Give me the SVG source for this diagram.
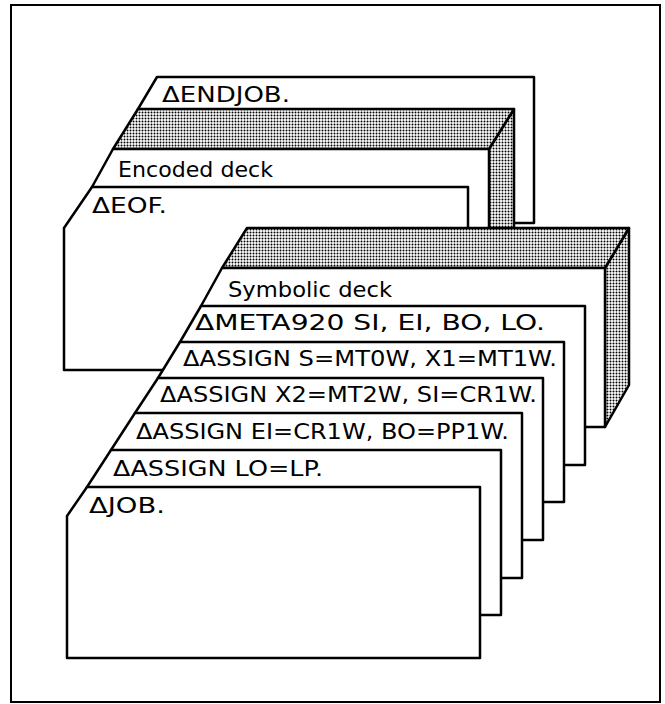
<svg xmlns="http://www.w3.org/2000/svg" width="665" height="704" viewBox="0 0 665 704">
<defs>
<pattern id="dots" patternUnits="userSpaceOnUse" width="3" height="3">
<rect width="3" height="3" fill="#fff"/>
<circle cx="1.5" cy="1.5" r="1.0" fill="#000"/>
</pattern>
<style>
.card{fill:#fff;stroke:#000;stroke-width:2.5;stroke-linejoin:round}
.shade{fill:url(#dots);stroke:#000;stroke-width:2.5;stroke-linejoin:round}
.frame{fill:#fff;stroke:#000;stroke-width:2}
.t{font-family:"DejaVu Sans","Liberation Sans",sans-serif;font-size:21px;fill:#000}
</style>
</defs>
<rect class="frame" x="11" y="5" width="649" height="697"/>
<g id="endjob">
<polygon class="card" points="157,77 534,77 534,223 138,223 138,109"/>
<text class="t" x="162" y="102" textLength="128" lengthAdjust="spacingAndGlyphs">ΔENDJOB.</text>
</g>
<g id="encoded-deck">
<polygon class="shade" points="514,109 514,300 489,300 489,149"/>
<polygon class="shade" points="138,109 514,109 489,149 113,149"/>
<polygon class="card" points="113,149 489,149 489,300 92,300 92,187"/>
<text class="t" x="118" y="177" textLength="155" lengthAdjust="spacingAndGlyphs">Encoded deck</text>
</g>
<g id="eof">
<polygon class="card" points="92,187 468,187 468,370 64,370 64,228"/>
<text class="t" x="92" y="213" textLength="75" lengthAdjust="spacingAndGlyphs">ΔEOF.</text>
</g>
<g id="symbolic-deck">
<polygon class="shade" points="629,228 629,385 605,427 605,268"/>
<polygon class="shade" points="247,228 629,228 605,268 222,268"/>
<polygon class="card" points="222,268 605,268 605,427 201,427 201,306"/>
<text class="t" x="228" y="297" textLength="164" lengthAdjust="spacingAndGlyphs">Symbolic deck</text>
</g>
<g id="meta">
<polygon class="card" points="201,306 585,306 585,465 180,465 180,342"/>
<text class="t" x="195" y="330" textLength="350" lengthAdjust="spacingAndGlyphs">ΔMETA920 SI, EI, BO, LO.</text>
</g>
<g id="assign-s">
<polygon class="card" points="180,342 564,342 564,502 158,502 158,378"/>
<text class="t" x="183" y="366" textLength="374" lengthAdjust="spacingAndGlyphs">ΔASSIGN S=MT0W, X1=MT1W.</text>
</g>
<g id="assign-x2">
<polygon class="card" points="158,378 543,378 543,540 135,540 135,413"/>
<text class="t" x="160" y="402" textLength="377" lengthAdjust="spacingAndGlyphs">ΔASSIGN X2=MT2W, SI=CR1W.</text>
</g>
<g id="assign-ei">
<polygon class="card" points="135,413 522,413 522,578 111,578 111,450"/>
<text class="t" x="136" y="439" textLength="373" lengthAdjust="spacingAndGlyphs">ΔASSIGN EI=CR1W, BO=PP1W.</text>
</g>
<g id="assign-lo">
<polygon class="card" points="111,450 501,450 501,615 87,615 87,487"/>
<text class="t" x="113" y="476" textLength="210" lengthAdjust="spacingAndGlyphs">ΔASSIGN LO=LP.</text>
</g>
<g id="job">
<polygon class="card" points="87,487 480,487 480,658 67,658 67,516"/>
<text class="t" x="89" y="513" textLength="76" lengthAdjust="spacingAndGlyphs">ΔJOB.</text>
</g>
<g id="connectors"/>
</svg>
